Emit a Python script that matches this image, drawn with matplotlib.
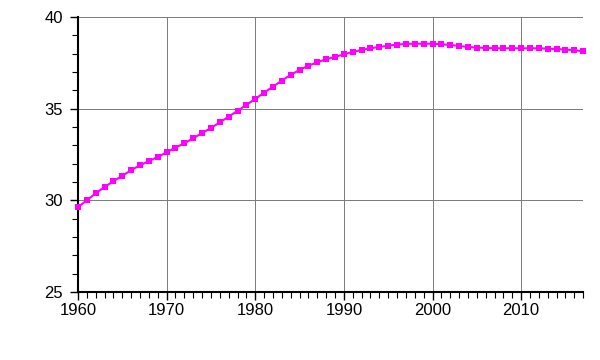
import numpy as np
import matplotlib
matplotlib.use("Agg")
import matplotlib.pyplot as plt
from matplotlib.ticker import MultipleLocator

years = list(range(1960, 2018))
values = [29.63, 30.00, 30.38, 30.73, 31.04, 31.34, 31.64, 31.91, 32.14, 32.36,
          32.62, 32.87, 33.11, 33.38, 33.67, 33.94, 34.25, 34.56, 34.88, 35.20,
          35.53, 35.87, 36.20, 36.53, 36.84, 37.11, 37.34, 37.53, 37.69, 37.82,
          37.96, 38.09, 38.20, 38.29, 38.36, 38.43, 38.49, 38.53, 38.54, 38.54,
          38.54, 38.51, 38.47, 38.42, 38.36, 38.33, 38.31, 38.29, 38.29, 38.29,
          38.29, 38.29, 38.29, 38.27, 38.25, 38.22, 38.18, 38.13]

plt.rcParams['font.family'] = ['Liberation Sans', 'DejaVu Sans']

fig = plt.figure(figsize=(6, 3.6), dpi=100)
ax = fig.add_axes([0.13, 0.189, 0.842, 0.764])

ax.plot(years, values, color='#ff00ff', lw=1.5, marker='s', ms=5,
        markeredgewidth=0, zorder=3, clip_on=False)

ax.set_xlim(1960, 2017)
ax.set_ylim(25, 40)
ax.xaxis.set_major_locator(MultipleLocator(10))
ax.xaxis.set_minor_locator(MultipleLocator(1))
ax.yaxis.set_major_locator(MultipleLocator(5))
ax.yaxis.set_minor_locator(MultipleLocator(1))
ax.grid(True, which='major', color='#7a7a7a', lw=0.7)
ax.set_axisbelow(True)

for s in ['top', 'right']:
    ax.spines[s].set_visible(False)
for s in ['left', 'bottom']:
    ax.spines[s].set_linewidth(1.5)

ax.tick_params(which='major', direction='out', length=6, width=1, labelsize=12)
ax.tick_params(axis='x', which='major', pad=2)
ax.tick_params(axis='y', which='major', pad=5)
ax.tick_params(which='minor', direction='out', length=4, width=0.8)

fig.savefig('out.png', dpi=100)
